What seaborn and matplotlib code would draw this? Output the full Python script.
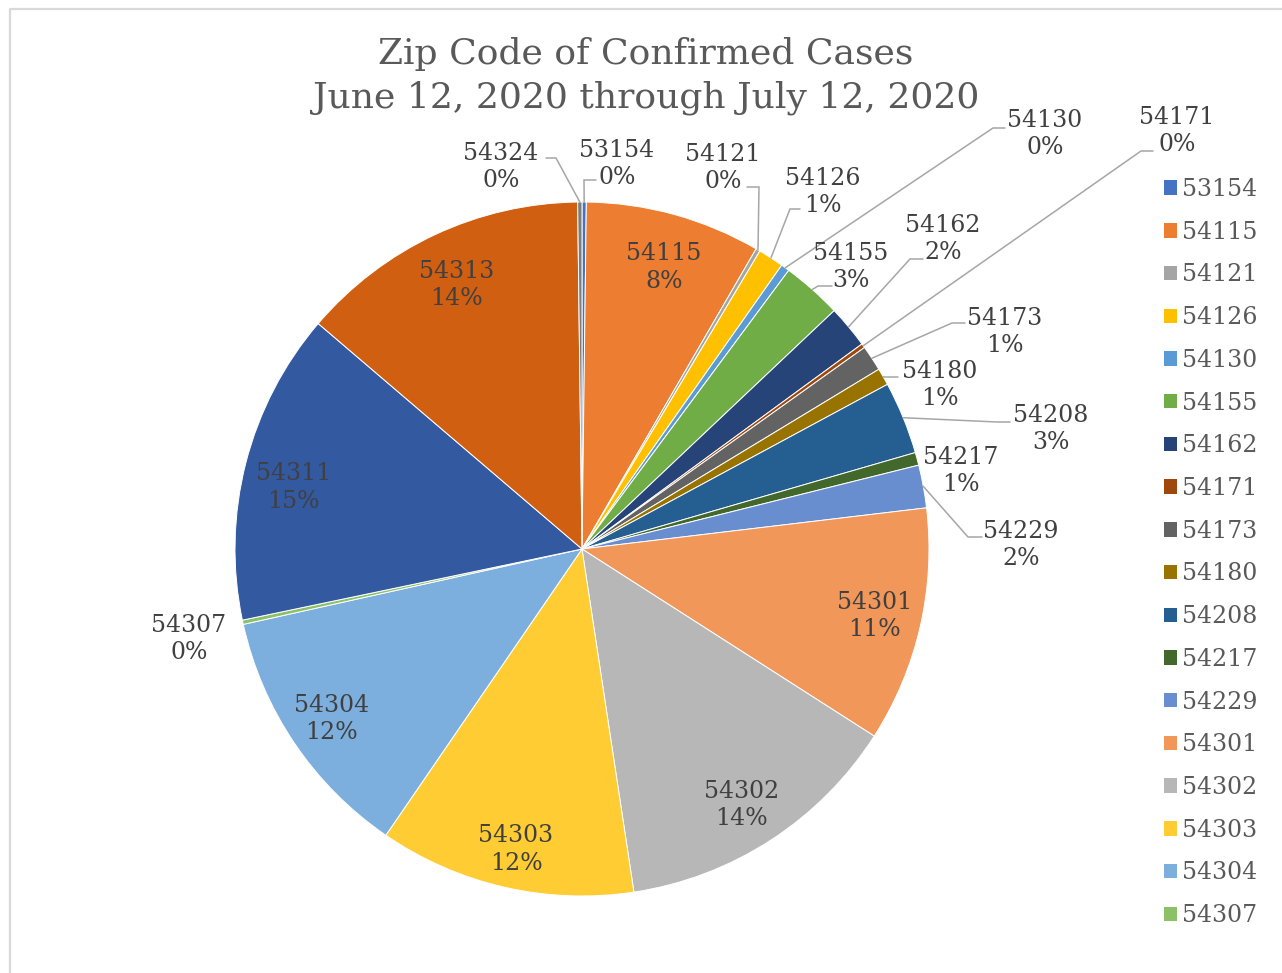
import numpy as np
import matplotlib
matplotlib.use("Agg")
import matplotlib.pyplot as plt
import seaborn as sns
from matplotlib.patches import Patch

# ---------------- data ----------------
zips = ["53154", "54115", "54121", "54126", "54130", "54155", "54162", "54171",
        "54173", "54180", "54208", "54217", "54229", "54301", "54302", "54303",
        "54304", "54307", "54311", "54313", "54324"]
cases = [1, 41, 1, 6, 2, 14, 10, 1, 6, 4, 17, 3, 10, 55, 68, 60, 60, 1, 73, 68, 1]
colors = ["#4472C4", "#ED7D31", "#A5A5A5", "#FFC000", "#5B9BD5", "#70AD47",
          "#264478", "#9E480E", "#636363", "#997300", "#255E91", "#43682B",
          "#698ED0", "#F1975A", "#B7B7B7", "#FFCD33", "#7CAFDD", "#8CC168",
          "#3359A1", "#D05F12", "#7C7C7C"]
legend_count = 18  # legend is truncated after 54307
title_lines = ["Zip Code of Confirmed Cases", "June 12, 2020 through July 12, 2020"]

# ---------------- layout (pixels, image coords: y downwards) ----------------
W, H = 1282, 973
CX, CY, R = 582, 549, 347
DY = 2  # small vertical text offset
# inside labels: nudge (dx, dy) from the default position at 0.865 R
inside_nudge = {
    "54115": (2, 3), "54301": (0, -5), "54302": (-4, -1), "54303": (1, 3),
    "54304": (-2, -3), "54311": (2, 8), "54313": (2, 3),
}
# outside label: text centre, leader end, leader elbow
outside_layout = {
    "54324": ((501, 165), (546, 158), (556, 158)),
    "53154": ((617, 162), (596, 180), (584, 180)),
    "54121": ((723, 166), (747, 187), (759, 187)),
    "54126": ((823, 190), (800, 209), (790, 209)),
    "54130": ((1045, 132), (1005, 128), (993, 128)),
    "54171": ((1177, 129), (1153, 151), (1141, 151)),
    "54155": ((851, 265), (832, 286), (818, 286)),
    "54162": ((943, 237), (923, 259), (910, 259)),
    "54173": ((1005, 330), (965, 323), (952, 323)),
    "54180": ((940, 383), (898, 377), (885, 377)),
    "54208": ((1051, 427), (1010, 422), (997, 422)),
    "54217": ((961, 469), None, None),
    "54229": ((1021, 543), (982, 537), (968, 537)),
    "54307": ((189, 637), None, None),
}

sns.set_style("white")
plt.rcParams["font.family"] = ["DejaVu Serif"]

fig = plt.figure(figsize=(W / 100, H / 100), dpi=100)
ax = fig.add_axes([0, 0, 1, 1])

wedges, _ = ax.pie(cases, colors=colors, startangle=90, counterclock=False,
                   center=(CX, H - CY), radius=R,
                   wedgeprops=dict(edgecolor="white", linewidth=0.7))
ax.set_xlim(0, W)
ax.set_ylim(0, H)
ax.set_aspect("equal")
ax.axis("off")

total = sum(cases)
label_color = "#404040"
fs = 17
ls = 1.24

for z, c, w in zip(zips, cases, wedges):
    pct = int(round(100 * c / total))
    txt = f"{z}\n{pct}%"
    mid = np.deg2rad((w.theta1 + w.theta2) / 2)
    if z in inside_nudge:
        r = 0.865 * R
        ndx, ndy = inside_nudge[z]
        x = CX + r * np.cos(mid) + ndx
        y = (H - CY) + r * np.sin(mid) - 5 - ndy
        ax.text(x, y, txt, ha="center", va="center", fontsize=fs,
                color=label_color, linespacing=ls)
    else:
        (tx, ty), end, elbow = outside_layout[z]
        ax.text(tx, H - ty - DY, txt, ha="center", va="center", fontsize=fs,
                color=label_color, linespacing=ls)
        if end is not None:
            sx = CX + R * np.cos(mid)
            sy = (H - CY) + R * np.sin(mid)
            ax.plot([sx, elbow[0], end[0]], [sy, H - elbow[1], H - end[1]],
                    color="#A6A6A6", lw=1.1, solid_joinstyle="miter")

# title
fig.text(646 / W, 1 - (52 + DY) / H, title_lines[0], ha="center", va="center",
         fontsize=26, color="#595959")
fig.text(646 / W, 1 - (96 + DY) / H, title_lines[1], ha="center", va="center",
         fontsize=26, color="#595959")

# legend
handles = [Patch(facecolor=colors[i], edgecolor="none", label=zips[i])
           for i in range(legend_count)]
leg = fig.legend(handles=handles, loc="upper left",
                 bbox_to_anchor=(1164 / W, 1 - 178 / H), frameon=False,
                 fontsize=fs, handlelength=0.56, handleheight=0.56,
                 handletextpad=0.2, labelspacing=0.835, borderpad=0,
                 borderaxespad=0)
for t in leg.get_texts():
    t.set_color("#595959")

# chart border (light gray frame)
ax.plot([10, 10, W + 10], [-10, H - 9, H - 9], color="#D9D9D9", lw=1.6,
        clip_on=False)

fig.savefig("out.png", dpi=100, facecolor="white")
